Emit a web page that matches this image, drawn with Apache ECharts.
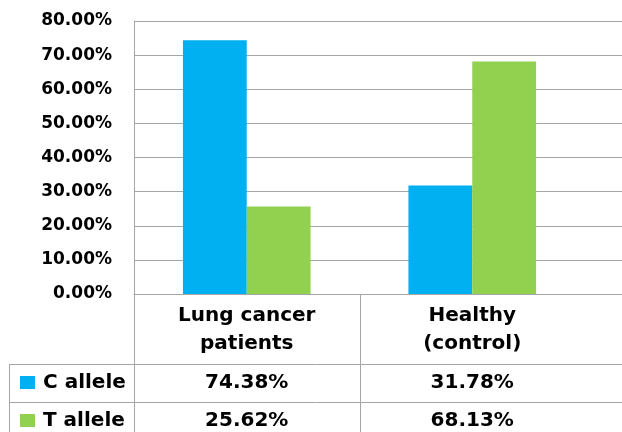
<!DOCTYPE html>
<html>
<head>
<meta charset="utf-8">
<script src="https://cdn.jsdelivr.net/npm/echarts@6/dist/echarts.min.js"></script>
<style>
html,body{margin:0;padding:0;background:#fff;}
#chart{width:622px;height:432px;}
</style>
</head>
<body>
<div id="chart"></div>
<script>
const categories = ['Lung cancer\npatients', 'Healthy\n(control)'];
const seriesNames = ['C allele', 'T allele'];
const cAllele = [74.38, 31.78];
const tAllele = [25.62, 68.13];
const yMin = 0, yMax = 80, yInterval = 10;
const colors = ['#00B0F0', '#92D050'];

const FONT = '"DejaVu Sans", Verdana, sans-serif';
const LINE = '#a6a6a6';
const GRID_LEFT = 134, GRID_TOP = 21, GRID_BOTTOM = 138;
const BAR_RIGHT = 37;
const ROW_TOPS = [364, 402];
const ROW_H = 38;
const TABLE_LEFT = 9;

const chart = echarts.init(document.getElementById('chart'), null, {renderer: 'canvas'});
const fmt = v => v.toFixed(2) + '%';

chart.setOption({
  animation: false,
  backgroundColor: '#fff',
  grid: [
    {left: GRID_LEFT, right: 0, top: GRID_TOP, bottom: GRID_BOTTOM},
    {left: GRID_LEFT, right: BAR_RIGHT, top: GRID_TOP, bottom: GRID_BOTTOM}
  ],
  xAxis: [
    {gridIndex: 0, type: 'category', data: [''], axisLine: {show: true, lineStyle: {color: LINE, width: 1}},
     axisTick: {show: false}, axisLabel: {show: false}, splitLine: {show: false}},
    {gridIndex: 1, type: 'category', data: categories, axisLine: {show: false}, axisTick: {show: false},
     axisLabel: {interval: 0, margin: 8, fontFamily: FONT, fontSize: 20, fontWeight: 'bold', color: '#000', lineHeight: 28}}
  ],
  yAxis: [
    {gridIndex: 0, type: 'value', min: yMin, max: yMax, interval: yInterval,
     axisLine: {show: true, lineStyle: {color: LINE, width: 1}}, axisTick: {show: false},
     splitLine: {show: true, lineStyle: {color: LINE, width: 1}},
     axisLabel: {formatter: fmt, margin: 22, fontFamily: FONT, fontSize: 17, fontWeight: 'bold', color: '#000'}},
    {gridIndex: 1, type: 'value', min: yMin, max: yMax, interval: yInterval, show: false, splitLine: {show: false}}
  ],
  series: [
    {name: seriesNames[0], type: 'bar', xAxisIndex: 1, yAxisIndex: 1, data: cAllele,
     itemStyle: {color: colors[0]}, barGap: '0%', barCategoryGap: '43.4%'},
    {name: seriesNames[1], type: 'bar', xAxisIndex: 1, yAxisIndex: 1, data: tAllele,
     itemStyle: {color: colors[1]}, barGap: '0%', barCategoryGap: '43.4%'}
  ]
});

// data table below the plot
const centers = categories.map((c, i) => chart.convertToPixel({xAxisIndex: 1}, i));
const catW = centers[1] - centers[0];
const plotBottom = 432 - GRID_BOTTOM;
const W = 622, H = 432;
const els = [];
const ln = (x1, y1, x2, y2) => els.push({type: 'line', silent: true,
  shape: {x1, y1, x2, y2}, style: {stroke: LINE, lineWidth: 1}});
const vx = x => Math.round(x) + 0.5;
ln(vx(GRID_LEFT), plotBottom, vx(GRID_LEFT), H);
ln(vx(centers[0] + catW / 2), plotBottom, vx(centers[0] + catW / 2), H);
ln(vx(TABLE_LEFT), ROW_TOPS[0], vx(TABLE_LEFT), H);
ROW_TOPS.forEach(y => ln(TABLE_LEFT, y + 0.5, W, y + 0.5));

const rows = [cAllele, tAllele];
rows.forEach((vals, r) => {
  const cy = ROW_TOPS[r] + ROW_H / 2;
  els.push({type: 'rect', silent: true, shape: {x: 20, y: cy - 7, width: 15, height: 13},
    style: {fill: colors[r]}});
  els.push({type: 'text', silent: true, x: 43, y: cy,
    style: {text: seriesNames[r], font: 'bold 20px ' + FONT, fill: '#000', align: 'left', verticalAlign: 'middle'}});
  vals.forEach((v, i) => {
    els.push({type: 'text', silent: true, x: centers[i], y: cy,
      style: {text: fmt(v), font: 'bold 20px ' + FONT, fill: '#000', align: 'center', verticalAlign: 'middle'}});
  });
});
chart.setOption({graphic: els});
</script>
</body>
</html>
